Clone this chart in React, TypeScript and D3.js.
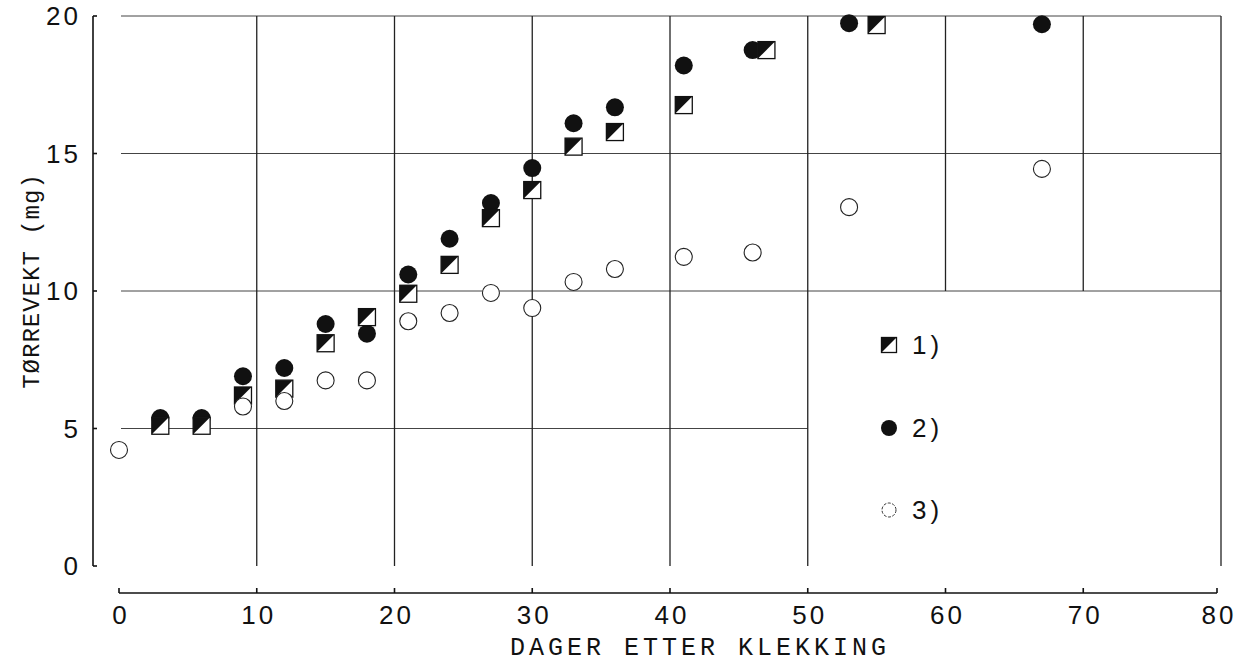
import React from "react";
import * as d3 from "d3";

const xTicks = [0, 10, 20, 30, 40, 50, 60, 70, 80];
const yTicks = [0, 5, 10, 15, 20];

// series 1) half-filled squares
const s1Days = [3, 6, 9, 12, 15, 18, 21, 24, 27, 30, 33, 36, 41, 47, 55];
const s1Vals = [5.1, 5.1, 6.2, 6.45, 8.1, 9.05, 9.9, 10.95, 12.65, 13.67, 15.25, 15.78, 16.76, 18.76, 19.67];
// series 2) filled circles
const s2Days = [3, 6, 9, 12, 15, 18, 21, 24, 27, 30, 33, 36, 41, 46, 53, 67];
const s2Vals = [5.38, 5.38, 6.9, 7.2, 8.8, 8.45, 10.6, 11.9, 13.2, 14.47, 16.1, 16.68, 18.2, 18.76, 19.74, 19.7];
// series 3) open circles
const s3Days = [0, 9, 12, 15, 18, 21, 24, 27, 30, 33, 36, 41, 46, 53, 67];
const s3Vals = [4.22, 5.8, 6.0, 6.75, 6.75, 8.9, 9.2, 9.93, 9.38, 10.33, 10.8, 11.24, 11.4, 13.05, 14.44];

// grid segments in data units
const hGrid = [
  { v: 20, from: 0, to: 80 },
  { v: 15, from: 0, to: 80 },
  { v: 10, from: 0, to: 80 },
  { v: 5, from: 0, to: 50 },
];
const vGrid = [
  { v: 10, from: 0, to: 20 },
  { v: 20, from: 0, to: 20 },
  { v: 30, from: 0, to: 20 },
  { v: 40, from: 0, to: 20 },
  { v: 50, from: 0, to: 20 },
  { v: 60, from: 10, to: 20 },
  { v: 70, from: 10, to: 20 },
  { v: 80, from: 0, to: 20 },
];

const legendLabels = ["1)", "2)", "3)"];
const xTitle = "DAGER ETTER KLEKKING";
const yTitle = "TØRREVEKT (mg)";

const W = 1242;
const H = 664;

function HalfSquare({ cx, cy, s }: { cx: number; cy: number; s: number }) {
  const h = s / 2;
  const l = cx - h, r = cx + h, t = cy - h, b = cy + h;
  return (
    <g>
      <rect x={l} y={t} width={s} height={s} fill="#fff" stroke="#111" strokeWidth={1.3} />
      <path d={`M${l},${t}L${r},${t}L${l},${b}Z`} fill="#111" />
    </g>
  );
}

export default function App() {
  const x = d3.scaleLinear().domain([0, 80]).range([119, 1221]);
  const y = d3.scaleLinear().domain([0, 20]).range([566, 16]);
  const axisY = 593;
  const axisX = 93;
  const tickFont = "'Liberation Sans', Arial, sans-serif";
  const titleFont = "'Liberation Mono', 'Courier New', monospace";
  const legendY = [345, 428, 510];

  return (
    <svg width={W} height={H} style={{ position: "absolute", left: 0, top: 0, background: "#fff" }}>
      <rect x={0} y={0} width={W} height={H} fill="#fff" />
      {/* grid */}
      {hGrid.map((g, i) => (
        <line key={"h" + i} x1={x(g.from) + 2} x2={x(g.to)} y1={y(g.v)} y2={y(g.v)} stroke="#444" strokeWidth={1} />
      ))}
      {vGrid.map((g, i) => (
        <line key={"v" + i} x1={x(g.v)} x2={x(g.v)} y1={y(g.from)} y2={y(g.to)} stroke="#222" strokeWidth={1.3} />
      ))}

      {/* y axis */}
      <line x1={axisX} x2={axisX} y1={y(0)} y2={y(20)} stroke="#111" strokeWidth={1.6} />
      {yTicks.map((t) => (
        <g key={"yt" + t}>
          <line x1={axisX} x2={axisX + 4} y1={y(t)} y2={y(t)} stroke="#111" strokeWidth={1.6} />
          <text x={81} y={y(t)} dy="0.36em" textAnchor="end" fontFamily={tickFont} fontSize={26} letterSpacing={3} fill="#111">
            {t}
          </text>
        </g>
      ))}

      {/* x axis */}
      <line x1={x(0)} x2={x(80) - 4} y1={axisY} y2={axisY} stroke="#111" strokeWidth={1.6} />
      {xTicks.map((t) => (
        <g key={"xt" + t}>
          <line x1={Math.min(x(t), x(80) - 4)} x2={Math.min(x(t), x(80) - 4)} y1={axisY} y2={axisY - 5} stroke="#111" strokeWidth={1.6} />
          <text x={Math.min(x(t), x(80) - 4) + 2} y={624} textAnchor="middle" fontFamily={tickFont} fontSize={26} letterSpacing={3} fill="#111">
            {t}
          </text>
        </g>
      ))}

      {/* titles */}
      <text x={700} y={655} textAnchor="middle" fontFamily={titleFont} fontSize={25} letterSpacing={4} fill="#111">
        {xTitle}
      </text>
      <text
        transform={`translate(39,281) rotate(-90)`}
        textAnchor="middle"
        fontFamily={titleFont}
        fontSize={24}
        letterSpacing={1}
        fill="#111"
      >
        {yTitle}
      </text>

      {/* series 2 filled circles */}
      {s2Days.map((d, i) => (
        <circle key={"s2" + i} cx={x(d)} cy={y(s2Vals[i])} r={9} fill="#111" />
      ))}
      {/* series 1 half squares */}
      {s1Days.map((d, i) => (
        <HalfSquare key={"s1" + i} cx={x(d)} cy={y(s1Vals[i])} s={17} />
      ))}
      {/* series 3 open circles */}
      {s3Days.map((d, i) => (
        <circle key={"s3" + i} cx={x(d)} cy={y(s3Vals[i])} r={8.5} fill="#fff" stroke="#222" strokeWidth={1.1} />
      ))}

      {/* legend */}
      <HalfSquare cx={889} cy={legendY[0]} s={15} />
      <circle cx={889} cy={legendY[1]} r={8} fill="#111" />
      <circle cx={889} cy={legendY[2]} r={7} fill="#fff" stroke="#333" strokeWidth={1} strokeDasharray="3 1.5" />
      {legendLabels.map((l, i) => (
        <text key={"lg" + i} x={912} y={legendY[i]} dy="0.36em" fontFamily={tickFont} fontSize={26} letterSpacing={4} fill="#111">
          {l}
        </text>
      ))}
    </svg>
  );
}
